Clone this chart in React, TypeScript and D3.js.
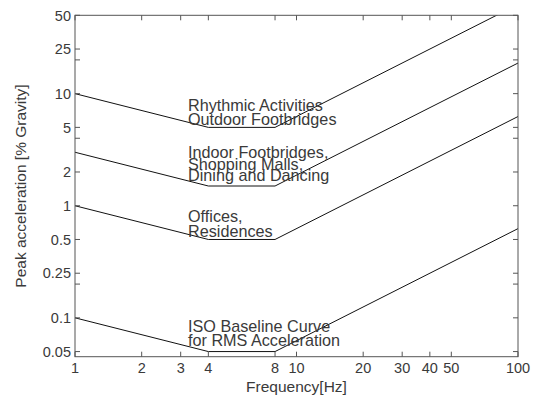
import React from "react";
import * as d3 from "d3";

const freqBreaks = [1, 4, 8, 100];
const isoBaseline = [0.1, 0.05, 0.05, 0.625];
const offices = [1, 0.5, 0.5, 6.25];
const indoor = [3, 1.5, 1.5, 18.75];
const outdoor = [10, 5, 5, 62.5];
const seriesList = [isoBaseline, offices, indoor, outdoor];

const xTicks = [1, 2, 3, 4, 8, 10, 20, 30, 40, 50, 100];
const yTicks = [0.05, 0.1, 0.2, 0.25, 0.5, 1, 2, 4, 5, 10, 20, 25, 50];
const yTickLabels = ["0.05", "0.1", "", "0.25", "0.5", "1", "2", "", "5", "10", "", "25", "50"];

const outdoorLabel = ["Rhythmic Activities", "Outdoor Footbridges"];
const indoorLabel = ["Indoor Footbridges,", "Shopping Malls,", "Dining and Dancing"];
const officeLabel = ["Offices,", "Residences"];
const isoLabel = ["ISO Baseline Curve", "for RMS Acceleration"];

const W = 540, H = 401;
const L = 75, R = 518, T = 15.3, B = 356.7;

export default function App() {
  const x = d3.scaleLog().domain([1, 100]).range([L, R]);
  const y = d3.scaleLog().domain([0.045, 50]).range([B, T]);
  const line = d3
    .line<number>()
    .x((_, i) => x(freqBreaks[i]))
    .y((d) => y(d));
  const font = "'Liberation Sans', Arial, sans-serif";
  const textCol = "#3a3a3a";
  const axisCol = "#555";

  const labelBlock = (lines: string[], baselines: number[], key: string) => (
    <g key={key}>
      {lines.map((s, i) => (
        <text key={i} x={188} y={baselines[i]} fontSize={16.2} fill={textCol} fontFamily={font}>
          {s}
        </text>
      ))}
    </g>
  );

  return (
    <svg width={W} height={H} style={{ position: "absolute", left: 0, top: 0, background: "#fff" }}>
      <defs>
        <clipPath id="plot">
          <rect x={L} y={T} width={R - L} height={B - T} />
        </clipPath>
      </defs>
      <rect x={0} y={0} width={W} height={H} fill="#fff" />
      <g clipPath="url(#plot)">
        {seriesList.map((s, i) => (
          <path key={i} d={line(s) || ""} fill="none" stroke="#111" strokeWidth={1} />
        ))}
      </g>
      {labelBlock(outdoorLabel, [111, 125], "o")}
      {labelBlock(indoorLabel, [158, 169.5, 181], "in")}
      {labelBlock(officeLabel, [222, 237], "of")}
      {labelBlock(isoLabel, [332, 346], "iso")}
      <rect x={L} y={T} width={R - L} height={B - T} fill="none" stroke={axisCol} strokeWidth={1} />
      {xTicks.map((t) => (
        <g key={"x" + t}>
          <line x1={x(t)} x2={x(t)} y1={B} y2={B - 5} stroke={axisCol} />
          <line x1={x(t)} x2={x(t)} y1={T} y2={T + 5} stroke={axisCol} />
          <text x={x(t)} y={373} textAnchor="middle" fontSize={14.5} fill={textCol} fontFamily={font}>
            {t}
          </text>
        </g>
      ))}
      {yTicks.map((t, i) => (
        <g key={"y" + t}>
          <line x1={L} x2={L + 5} y1={y(t)} y2={y(t)} stroke={axisCol} />
          <line x1={R} x2={R - 5} y1={y(t)} y2={y(t)} stroke={axisCol} />
          <text x={71} y={y(t)} dy="0.36em" textAnchor="end" fontSize={14.5} fill={textCol} fontFamily={font}>
            {yTickLabels[i]}
          </text>
        </g>
      ))}
      <text x={(L + R) / 2} y={392} textAnchor="middle" fontSize={15.5} fill={textCol} fontFamily={font}>
        Frequency[Hz]
      </text>
      <text
        transform={`translate(26,${(T + B) / 2}) rotate(-90)`}
        textAnchor="middle"
        fontSize={15.5}
        fill={textCol}
        fontFamily={font}
      >
        Peak acceleration [% Gravity]
      </text>
    </svg>
  );
}
